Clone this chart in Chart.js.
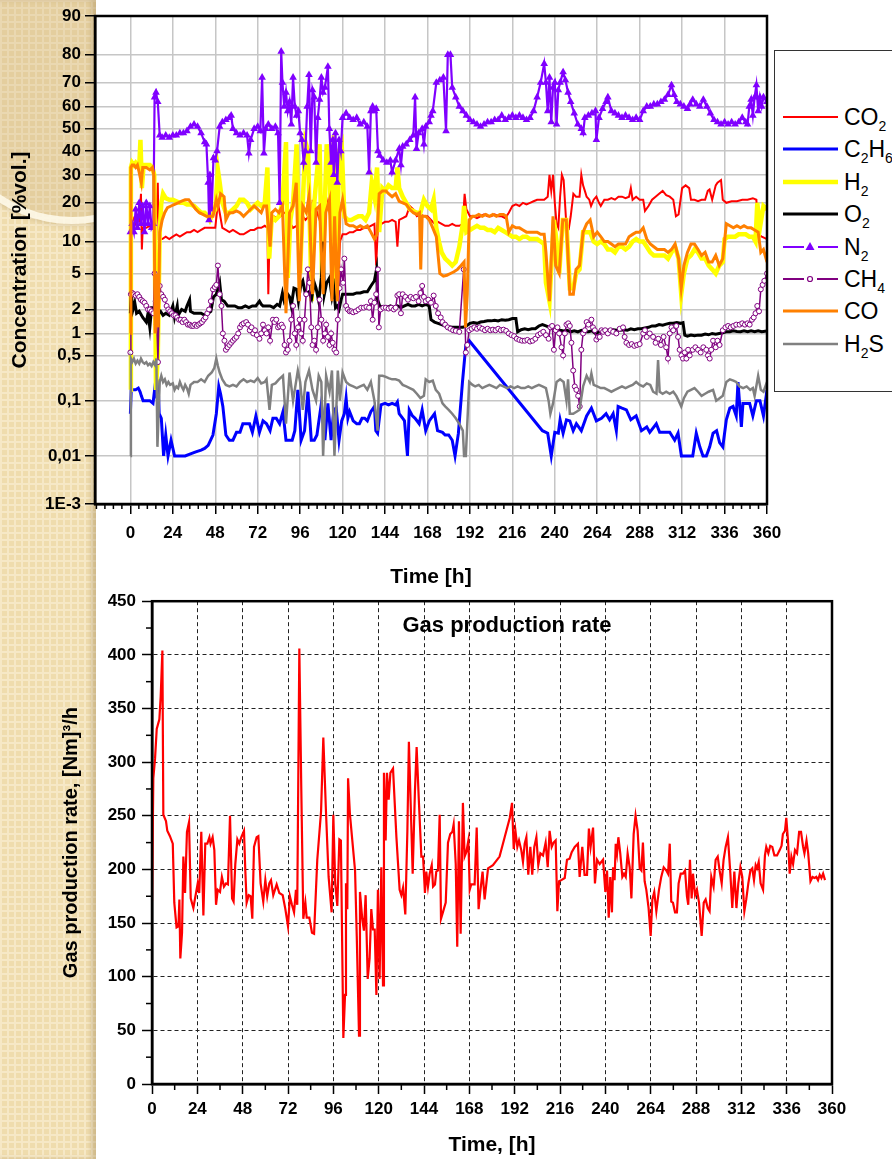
<!DOCTYPE html>
<html lang="en">
<head>
<meta charset="UTF-8">
<title>Gas composition and gas production rate</title>
<script src="https://cdn.jsdelivr.net/npm/chart.js"></script>
<style>
  html, body { margin: 0; padding: 0; }
  body {
    width: 892px; height: 1159px; overflow: hidden; position: relative;
    background: #fff; font-family: 'Liberation Sans', Arial, sans-serif;
  }
  .strip {
    position: absolute; left: 0; top: 0; width: 96px; height: 1159px; overflow: hidden;
    background-color: #efdcad;
    background-image:
      linear-gradient(#f6e8c6 2px, transparent 2px),
      linear-gradient(90deg, #f6e8c6 2px, transparent 2px);
    background-size: 7px 7px;
    box-shadow: inset -5px 0 5px rgba(130, 100, 50, .28);
  }
  .ring {
    position: absolute; left: -60px; top: -40px; width: 250px; height: 250px; border-radius: 50%;
    border: 7px solid rgba(255, 250, 236, .85);
    background: rgba(190, 160, 105, .22);
    box-shadow: 0 0 6px rgba(120, 90, 40, .3);
  }
  canvas { position: absolute; left: 0; }
  #top { top: 0; }
  #bottom { top: 585px; }
  #legend {
    position: absolute; left: 774px; top: 50px; width: 140px; height: 342px;
    border: 1.5px solid #333; background: #fff; box-sizing: border-box;
  }
  .row { position: absolute; left: 6px; height: 30px; }
  .row svg { position: absolute; left: 0; top: 0; }
  .row span { position: absolute; left: 63px; top: 0; font-size: 23px; line-height: 30px; white-space: nowrap; color: #000; }
  .row sub { font-size: 14px; vertical-align: -6px; line-height: 0; }
  #rateTitle {
    position: absolute; left: 507px; top: 612px; transform: translateX(-50%);
    font-weight: bold; font-size: 22px; white-space: nowrap;
  }
</style>
</head>
<body>
<div class="strip"><div class="ring"></div></div>
<canvas id="top" width="892" height="590"></canvas>
<canvas id="bottom" width="892" height="574"></canvas>
<div id="legend"></div>
<div id="rateTitle">Gas production rate</div>

<script>
// ---- data: [time h, %vol] ----
const co2 = [[0,15],[1,16],[2,15],[3,14],[4,16],[5,15],[6,23],[6.5,8.5],[7,13],[9,13],[11,13.5],[13,13],[14.5,14],[15.5,27],[16,10.5],[18,10.5],[20,11],[22,10.5],[24,11],[26,11.5],[28,11],[30,11.5],[32,12],[34,12],[36,12.5],[38,12],[40,12.5],[42,13],[44,13],[46,13],[48,13],[49.5,20],[50.5,17],[52,13],[54,12.5],[56,12],[58,12.5],[60,12],[62,11.5],[64,11.5],[66,12],[68,12.5],[70,12.5],[72,13],[74,13],[76,13.5],[77.5,13],[78,3],[78.5,8],[79.5,16],[81,16],[83,15.5],[85,16],[87,17],[89,17],[90.5,14],[92,13],[94,13.5],[96,14],[97.5,16],[99,15],[101,16],[102,7.5],[103,21],[104,14],[105,18],[107,15],[109,21],[110,17],[111,21],[112.6,17],[114,13],[116,12.5],[117.5,3],[118.5,10],[120,11.5],[122,11.5],[124,12],[126,12],[128,12.5],[130,12.5],[132,13],[134,13],[136,13.5],[138,14],[139,6],[140,13.5],[142,14],[144,14.5],[146,14.5],[148,15],[150,14.5],[151,9],[152,15],[154,15.5],[156,16],[158,19],[160,18],[162,16],[164,16.5],[166,16],[168,16],[170,15],[172,14],[174,14.5],[176,14],[178,13.5],[180,13.5],[182,14],[184,13.5],[186,13.5],[188,14],[189,23],[190,18],[192,16],[194,16],[196,15.5],[198,16],[200,16.5],[202,16],[204,16],[206,16.5],[208,16],[210,16],[212,15.5],[214,17],[216,19],[218,19.5],[220,19],[222,20],[224,19.5],[226,20],[228,20.5],[230,21],[232,21],[234,21],[236,22],[237,30],[238,24],[239,30],[240,20],[241,14],[242,13],[243,22],[244,30],[245,28],[246.5,14],[248,13],[249,16],[250.5,23],[252,22],[254,22],[255,30],[256,26],[257,24],[258,22],[259.5,21],[260.5,19],[262,21],[263.5,22],[265,20],[266,19],[268,21],[270,21],[272,21.5],[274,21],[276,22],[278,22],[280,21.5],[282,22],[283,25],[284,21],[286,22],[288,21],[290,21],[291,17.5],[293,19],[295,21],[297,22],[299,23],[301,24],[303,22.5],[305,22],[307,21],[308.5,16],[310,16.5],[312,25],[314,26],[316,25],[317,21],[319,21],[321,20.5],[323,21],[325,21],[326.5,24],[327.5,24.5],[329,21],[331,26],[332,27],[334,28],[335,21],[337,20],[340,20.5],[343,20.5],[346,21],[349,21],[352,21.5],[354,21],[355,11.5],[357,11],[360,10.5]];

const c2h6 = [[0,0.06],[0.5,0.15],[1.5,0.15],[3,0.15],[4.5,0.16],[5.5,0.14],[6.2,0.12],[7.2,0.1],[9,0.1],[11,0.1],[12.8,0.09],[13.7,0.15],[14.7,0.12],[15.6,0.22],[16.3,0.06],[17.5,0.05],[18.8,0.01],[20,0.025],[21.3,0.01],[23,0.02],[25,0.01],[28,0.01],[31,0.01],[34,0.011],[37,0.012],[40,0.013],[42,0.014],[44,0.016],[46.7,0.025],[48.6,0.06],[50,0.17],[51,0.13],[52.3,0.08],[54,0.025],[56,0.02],[58,0.02],[60,0.028],[62,0.028],[63.6,0.04],[65.5,0.04],[67.4,0.04],[69,0.028],[71,0.055],[73,0.028],[75,0.045],[77,0.04],[79,0.03],[80.6,0.05],[82.5,0.05],[84.4,0.04],[86.3,0.065],[88,0.02],[90,0.02],[91.5,0.02],[93,0.03],[94.7,0.15],[96.6,0.02],[98.5,0.03],[100.4,0.14],[102.3,0.02],[104,0.02],[105.5,0.025],[108,0.09],[110,0.02],[111.7,0.09],[113.5,0.02],[115,0.07],[116.4,0.075],[118,0.02],[119.5,0.045],[121,0.06],[122,0.11],[123,0.05],[124,0.065],[126,0.045],[128,0.04],[129.5,0.04],[131,0.05],[132.5,0.05],[134,0.045],[136,0.065],[138,0.08],[138.8,0.03],[139.8,0.027],[141.7,0.085],[144,0.09],[146,0.085],[148,0.09],[150,0.085],[151,0.095],[152,0.06],[154,0.05],[155,0.045],[156.7,0.01],[157.7,0.07],[159.5,0.055],[161,0.05],[163.3,0.04],[165,0.07],[167,0.03],[169,0.045],[172,0.06],[173.7,0.03],[176.5,0.028],[178,0.025],[180,0.025],[182,0.02],[183.6,0.01],[185.5,0.027],[187.8,0.2],[189.7,0.7],[191.6,0.8],[233,0.03],[236,0.027],[238,0.01],[240,0.028],[242,0.027],[243,0.047],[244.7,0.027],[246.6,0.047],[248.5,0.045],[250.4,0.03],[252.2,0.04],[255,0.03],[258,0.055],[260.7,0.075],[263.5,0.045],[266.4,0.05],[269,0.06],[271,0.047],[273,0.06],[274.8,0.03],[275.8,0.08],[278,0.075],[280.5,0.07],[283,0.047],[286,0.055],[289,0.03],[292,0.035],[293.7,0.028],[297.4,0.04],[299.3,0.028],[302,0.028],[305,0.028],[307.8,0.02],[309.7,0.027],[311.6,0.01],[315,0.01],[318,0.01],[320,0.027],[322,0.015],[323.8,0.01],[325.7,0.01],[327.6,0.015],[329.5,0.027],[331.5,0.03],[333.2,0.018],[335,0.015],[337,0.047],[339,0.075],[340.8,0.08],[342.6,0.055],[343.6,0.2],[345.5,0.035],[346.4,0.09],[348,0.09],[350.2,0.09],[352,0.055],[354,0.1],[356,0.1],[358,0.055],[360,0.15]];

const h2 = [[0,0.15],[0.3,33],[1,35],[2,34],[3,35],[4,34],[5,33],[5.7,45],[6.5,25],[7.5,34],[9,34],[11,34],[12.5,33],[13.5,30],[14.5,0.15],[15.5,0.5],[16.6,12],[17.5,20],[18.5,23],[20,21.5],[22,21],[24,21],[26,20.5],[28,20],[30,20],[32,19.5],[34,19.5],[36,19],[38,18],[40,17],[42,17],[44,16],[45,15],[46,16],[47,17],[48,18],[49.5,32],[50.5,27],[52,20],[54,17],[56,17],[58,18],[60,19],[62,21],[64,21],[66,20],[68,18],[70,19],[72,20],[74,19],[76,20],[77.5,33],[78.5,7],[80,16],[82,15],[84,16],[86,20],[88,44],[89,4.5],[90.5,15],[92,20],[94,43],[96,5],[97.5,20],[99,44],[100.5,40],[102.5,2.5],[104,20],[106,35],[107,43],[108.5,3.5],[110,20],[111,43],[112.5,36],[114,8],[115,47],[116.5,2.5],[118,40],[119.5,43],[121,16],[123,15],[125,15],[127,15.5],[129,16],[131,16],[133,15],[135,17],[136.5,27],[138,22],[139.5,33],[140.7,12],[142.5,25],[144,24],[146,26],[148,25],[150,25],[151,33],[152,25],[154,22],[156,20],[158,18],[160,17.5],[162,17],[164,17],[166,21],[168,19],[170,18],[171.5,21],[173,13],[174.5,10],[176,8],[178,7],[180,6.5],[182,6],[184,6.5],[186,9],[188,14],[188.7,19],[190,12],[192,12.5],[194,13],[196,13.5],[198,13],[200,13],[202,12.5],[204,12.5],[206,12],[208,13],[210,12.5],[212,12],[214,11.5],[216,11],[218,11],[220,10.5],[222,11],[224,11],[226,10.5],[228,10.5],[230,10.5],[232,10],[234,9.5],[235,4],[237,2.5],[238.5,8],[239.5,15],[241,10],[242.5,5],[244.5,15],[246.5,15],[248.5,3.5],[250.5,3.5],[252,5],[254,5.5],[256,12],[258,12],[260,12],[262,10],[264,9.5],[266,10],[268,9.5],[270,8.5],[272,8.5],[274,8],[276,9],[278,9],[280,8.5],[282,9],[284,10],[286,10.5],[288,10],[290,10],[292,9],[294,8],[296,7.5],[298,7.5],[300,7.5],[302,7.5],[304,7],[306,8],[308,9],[310,7],[311.5,3],[313,5],[315,7],[317,7.5],[319,8.5],[321,8],[323,7],[325,7],[327,6],[329,5.5],[331,5],[333,6],[335,6.5],[336,10.5],[338,11],[340,11],[342,11],[344,11.5],[346,11.5],[348,11.5],[350,11],[352,11],[353.5,10],[354.5,20],[356,13],[358,19],[360,18]];

const o2 = [[0,1.8],[0.5,3],[1.5,2],[2.5,2.4],[3.5,1.8],[5,1.9],[7,1.6],[9,1.4],[10,1.8],[11,1.2],[12,2.1],[13,2.1],[15,1.8],[17,1.9],[18.5,1.7],[20,1.8],[22,1.7],[24,2.2],[25,1.6],[26.5,2.2],[27,1.7],[29,2],[31,1.9],[32,2.2],[33.5,2.6],[34,1.9],[36,1.8],[38,1.8],[40,1.8],[42,1.7],[44,1.8],[45.5,1.9],[47,2.8],[48.6,3],[50.5,4],[51.5,2.6],[53,2.5],[55,2.2],[57,2.2],[59,2.2],[61,2.1],[63,2.1],[65,2.2],[67,2.1],[69,2.2],[71,2.2],[73,2.5],[74,2.3],[75,2.2],[77,2.2],[79,2.2],[81,2.1],[83,2.3],[84.4,2.2],[86,3.1],[87,2.5],[89,3],[90,2.8],[91,2.2],[92.5,3.5],[94,3.4],[95,2.5],[96.5,3.9],[97.5,4.2],[99,3],[101,3.2],[102.5,2.7],[104,4],[105,3.5],[106.5,2.5],[108,4.5],[109,10],[109.7,3],[111,4],[112.6,4.5],[114,2.8],[115,3.5],[116,2.1],[117,2.2],[118,2],[119,2.5],[120,3],[122,3],[124,3],[126,3],[128,3.1],[130,3.1],[132,3.2],[134,3.2],[136,3.7],[138,4.2],[139.2,5.5],[139.8,2.6],[141,2.2],[143,2.1],[145,2.1],[147,2.2],[149,2.1],[151,2.2],[153,2.1],[155,2.2],[157,2.3],[159,2.2],[161,2.2],[163,2.3],[165,2.2],[167,2.3],[169,2.2],[170,1.5],[172,1.4],[174,1.35],[176,1.3],[178,1.25],[180,1.22],[182,1.2],[184,1.2],[186,1.2],[188,1.2],[190,1.25],[192,1.35],[194,1.38],[196,1.35],[198,1.4],[200,1.42],[202,1.45],[204,1.45],[206,1.48],[208,1.45],[210,1.5],[212,1.48],[214,1.5],[216,1.55],[218,1.55],[219,1.05],[221,1.12],[223,1.15],[225,1.12],[227,1.15],[229,1.15],[231,1.25],[233,1.3],[235,1.25],[237,1.2],[239,1.15],[241,1.12],[243,1.1],[245,1.08],[247,1.1],[249,1.05],[251,1.08],[253,1.05],[255,1.1],[257,1.05],[259,1.05],[261,1.08],[263,1.0],[265,1.05],[267,1.05],[269,1.1],[271,1.1],[273,1.12],[275,1.1],[277,1.1],[279,1.12],[281,1.1],[283,1.15],[285,1.12],[287,1.15],[289,1.15],[291,1.18],[293,1.2],[295,1.25],[297,1.25],[299,1.3],[301,1.28],[303,1.32],[305,1.35],[307,1.35],[309,1.38],[311,1.35],[312.5,1.38],[313.5,0.95],[315,0.92],[317,0.95],[319,0.93],[321,0.95],[323,0.95],[325,0.98],[327,0.96],[329,1.0],[331,0.98],[333,1.0],[335,1.02],[337,1.05],[339,1.05],[341,1.08],[343,1.06],[345,1.05],[347,1.08],[349,1.05],[351,1.08],[353,1.05],[355,1.08],[357,1.05],[360,1.08]];

const n2 = [[0,12],[1,14],[2,12],[3,18],[4,13],[5,20],[6,14],[7,19],[8,12],[9,20],[10,14],[11,19],[12,13],[13,14],[13.7,64],[14.5,66],[15.5,62],[16.6,47],[18,46],[20,47],[22,46],[24,47],[26,47],[28,48],[30,48],[32,49],[34,51],[36,52],[38,51],[40,48],[42,44],[43,43],[44,27],[44.5,15],[45,30],[46,18],[47,37],[48,36],[49,40],[50.5,51],[52,53],[54,54],[56,55],[57,56],[58,50],[60,48],[62,47],[64,48],[66,47],[67,39],[68,45],[70,50],[72,51],[73.5,49],[74.5,72],[75.5,39],[76.5,50],[78,52],[80,50],[82,51],[83.5,48],[84.4,20],[85.3,81],[86,70],[87,60],[88,66],[89,58],[90,62],[91,52],[92,72],[93,60],[94,56],[95,58],[96,48],[97,45],[98,35],[99,40],[100,60],[101,73],[102,40],[103,67],[104,64],[105,35],[106,55],[107,63],[108,72],[109,66],[110,68],[111.7,76],[112.5,50],[113.5,35],[114.5,45],[115,30],[116,48],[117,27],[118,45],[119,40],[120,55],[122,57],[124,55],[126,54],[128,55],[130,52],[132,53],[134,51],[135,31],[136,58],[137,60],[138,58],[139,59],[140,40],[141,38],[143,36],[145,35],[147,36],[148,31],[150,36],[152,41],[153,34],[154,42],[156,43],[158,45],[160,47],[161,64],[161.8,41],[163,48],[165,50],[166,43],[167,51],[169,53],[170,56],[171,58],[173,70],[175,71],[177,72],[178.5,49],[179.5,80],[181,80],[182,68],[184,64],[186,60],[188,58],[190,56],[192,54],[194,53],[196,52],[198,51],[200,52],[202,53],[204,53],[206,54],[208,54],[210,56],[212,54],[214,55],[216,56],[218,55],[220,56],[222,55],[224,54],[226,55],[228,58],[230,64],[232,70],[234,77],[235,70],[236,58],[237,72],[238,53],[239,68],[240,70],[241,52],[242,67],[243,70],[244.7,74],[246,71],[247.5,66],[249,62],[251,57],[253,52],[255,50],[256,48],[257,55],[259,56],[261,57],[263,58],[263.5,45],[265,55],[267,59],[269,62],[270,64],[272,58],[274,57],[276,56],[278,55],[280,56],[282,55],[284,54],[286,55],[288,54],[290,58],[292,60],[294,60],[296,61],[298,61],[300,62],[302,63],[304,65],[306,69],[307.5,65],[309,62],[311,61],[313,60],[315,59],[316.5,61],[318,63],[320,61],[322,60],[324,63],[326,60],[328,57],[330,54],[332,53],[334,52],[336,53],[338,52],[340,53],[342,52],[344,53],[346,55],[348,53],[349,52],[350,60],[351,63],[352,56],[353,64],[354,69],[355,58],[356,64],[357,60],[358,64],[360,62]];

const ch4 = [[0,0.55],[0.3,3],[1,3.1],[2,3],[3,2.9],[4,3],[5,2.8],[6,2.6],[7,2.5],[8,2.4],[9,2.2],[10,2],[11,2],[12,1.9],[13,1.8],[13.7,5],[14.3,2.5],[15,1.3],[15.6,0.4],[16.6,3.7],[17.5,3],[18.5,2.8],[19.5,2.6],[20.5,2.2],[21.5,2],[22.5,1.9],[23.5,1.8],[24.5,1.7],[25.5,1.7],[26.5,1.6],[27.5,1.5],[28.5,1.5],[29.5,1.4],[30.5,1.5],[31.5,1.4],[32.5,1.3],[33.5,1.3],[34.5,1.25],[35.5,1.25],[36.5,1.3],[37.5,1.25],[38.5,1.3],[39.5,1.35],[40.5,1.4],[41.5,1.5],[42.5,1.6],[43.5,1.8],[44.5,2],[45.5,2.5],[46.7,3.4],[47.7,3.6],[48.6,3.8],[49.5,6],[50.5,3],[51.5,2.2],[52.3,1],[53.2,0.8],[54,0.6],[55,0.65],[56,0.7],[57,0.75],[58,0.8],[59,0.85],[60,0.9],[61,1.0],[62,1.2],[63,1.3],[64,1.35],[65.5,1.4],[66.5,1.3],[67.5,1.1],[68.5,1.2],[69.5,1.0],[70.5,1.1],[71.5,0.95],[73,0.85],[74,1.0],[75,1.3],[76,1.1],[77,1.0],[78,1.2],[79,0.8],[80.6,1.5],[81.5,1.4],[82.5,1.5],[83.5,1.2],[84.4,1.25],[85.5,1.3],[86.3,1.2],[87.2,0.7],[88,0.55],[89,0.6],[90,0.8],[91,1.5],[92,2.2],[93,1.0],[93.8,0.7],[94.8,1.2],[95.7,1.5],[96.6,1.0],[97.5,0.8],[98.5,1.5],[99.4,3],[100.4,5.5],[101.3,4],[102.3,1.2],[103,0.7],[104,0.8],[105,0.6],[106,1.2],[107,2.6],[108,1.5],[109,0.8],[110,1.0],[110.7,1.3],[111.7,0.9],[112.6,0.7],[113.5,1.0],[114.4,0.75],[115.4,0.6],[116.4,0.55],[117.3,1.5],[118.3,3.5],[119.2,5.5],[120.3,4],[121,7],[122,2.2],[123,2.0],[124,1.9],[125,1.9],[126,1.85],[127.5,1.9],[129,2.0],[130.5,2.1],[132,2.1],[133.5,2.15],[135,2.1],[136,2.5],[137,1.5],[138,2.4],[139,3],[140,5.5],[140.5,1.2],[141.5,2],[143,2.1],[144.5,2.1],[146,2.05],[147.5,2.1],[149,2.0],[150,2.1],[151,2.9],[152,3],[153,1.8],[154,3],[155.5,2.8],[157,2.6],[158.5,2.8],[160,2.7],[161.5,2.8],[163,2.5],[164,3.1],[165,3.7],[166,2.8],[167,2.5],[168.5,2.6],[170,2.4],[171.5,2.9],[172.7,2.2],[174,1.8],[175.5,1.6],[176.5,1.4],[178,1.3],[179.5,1.2],[181,1.15],[182.5,1.1],[184,1.08],[186,1.05],[188.5,5.5],[189.7,0.55],[190.5,0.7],[191.6,1.1],[193,1.15],[194.5,1.2],[196,1.15],[197.5,1.2],[199,1.15],[200.5,1.1],[202,1.15],[203.5,1.1],[205,1.12],[206.5,1.1],[208,1.15],[209.5,1.1],[211,1.12],[212.5,1.08],[214,1.0],[215.5,0.95],[217,0.92],[218.5,0.85],[220,0.82],[221.5,0.8],[223,0.8],[224.5,0.82],[226,0.78],[227.5,0.8],[229,0.85],[230.5,0.95],[232,1.0],[233.5,1.05],[235,0.95],[236.5,0.85],[237.5,1.2],[238.5,1.25],[239.5,0.6],[240.5,1.1],[241.5,1.2],[242.5,1.0],[243.8,0.65],[244.7,0.5],[245.7,1.0],[246.6,1.3],[247.6,1.35],[248.5,1.25],[249.4,0.75],[250.4,0.3],[251.3,0.17],[252.2,0.15],[253.2,0.12],[254.1,0.08],[255,0.6],[256,1.0],[257,1.1],[258,1.4],[259,1.3],[260.7,1.5],[261.6,1.2],[262.6,1.1],[263.5,0.83],[264.5,0.9],[265.4,0.9],[266.4,1.1],[267.3,1.05],[268.5,1.1],[270,1.0],[271.5,1.1],[273,1.05],[274.8,1.0],[276.7,1.15],[278.6,1.2],[279.5,0.9],[280.5,0.75],[282,0.7],[283.5,0.72],[285,0.68],[286.5,0.7],[288,0.72],[290,1.0],[291,1.1],[292,0.9],[293.7,1.0],[295.6,0.9],[297,0.75],[298.5,0.85],[300,0.7],[301.5,0.9],[303,0.65],[304,0.45],[305,1.0],[306,1.2],[307,1.1],[308.7,1.25],[309.7,0.9],[310.6,0.6],[311.6,0.5],[312.5,0.45],[313.5,0.55],[314.4,0.45],[315.4,0.6],[316.3,0.5],[318,0.6],[319.5,0.65],[321,0.6],[322.5,0.55],[324,0.65],[325.7,0.6],[326.6,0.5],[327.6,0.45],[328.5,0.6],[329.5,0.8],[331,0.65],[332,0.8],[333.2,0.7],[335,1.1],[336.5,1.2],[338,1.25],[339.5,1.2],[341,1.25],[342.6,1.3],[344.5,1.3],[346,1.35],[347.5,1.3],[349,1.35],[350.2,1.3],[351.5,1.5],[352.5,1.6],[353.5,1.8],[354.5,2.2],[355.5,1.9],[356.5,3.4],[357.5,3.8],[358.5,4.2],[360,5]];

const co = [[0,1],[0.3,33],[1,34],[2,34],[3,33],[4,34],[5,31],[6.2,27],[7,33],[9,33],[11,32],[12.5,33],[13.3,30],[14,1],[15,5],[15.8,1.2],[16.6,12],[18,15],[19.4,17],[21,18.5],[23,19],[25,19.5],[27,20],[29,20.5],[31,21],[33,21],[35,19.5],[37,18],[39,17],[41,16.5],[43,16],[45,16],[46.7,16],[48.6,21],[49.5,19],[51,23],[53,22],[54,15],[56,17],[58,17],[60,17.5],[62,17],[64,16],[66,17],[68,18],[70,19],[72,18],[74,17],[75.5,19],[77,19],[79,9],[80,17],[82,18],[84,17],[86,19],[88,1.8],[90,17],[92,19],[93.8,27],[95.5,2.5],[97.5,19],[99.5,17],[101,22],[103,3],[105,18],[107,19],[109,3],[110.5,17],[112.6,21],[114,2.5],[115.5,16],[117,2.5],[118.5,17],[120,21],[122,14],[124,13.5],[126,13.5],[128,13],[130,13.5],[132,13],[134,13.5],[136,12],[138,10.5],[139.5,11.5],[140.7,23],[142.5,24],[144.5,24],[146,23],[148,22],[150,23],[152,20.5],[154,20],[156,19.5],[158,18],[160,17],[162,16.5],[163.5,17],[164.2,5.5],[165,16],[167,16],[169,15],[171,13],[173,11],[175,5],[177,4.7],[179,4.8],[181,5],[183,5.2],[185,5.5],[187,6],[188.7,6.5],[189.5,1.2],[190.5,3],[191.6,15],[193.5,16],[195,16],[197,16.5],[199,16],[201,16.5],[203,16],[205,16.5],[207,16],[209,16.5],[211,16.5],[212.5,16],[214,12],[216,13.5],[218,13],[220,13],[222,12.5],[224,12],[226,12],[228,12],[230,12],[232,11.5],[234,11.5],[235,8],[237,2.5],[239,16],[240.5,6],[242.5,5],[244.5,15],[246.5,15],[248.5,3],[250.5,3],[252,5.5],[254,6],[256,12],[258,14],[260,15],[262,11],[264,12],[266,11],[268,10],[270,10],[272,9.5],[274,9],[276,9.5],[278,9.5],[280,9.5],[282,11],[284,11.5],[286,12],[288,12],[290,13],[292,10.5],[294,9.5],[296,9],[298,8.5],[300,8.5],[302,8.5],[304,8],[306,8.5],[308,9.5],[310,7],[311.5,3.5],[313,6],[315,8],[317,9.5],[319,9.5],[321,8.5],[323,7.5],[325,8],[327,6.5],[329,6.5],[331,7.5],[333,6],[335,7],[337,14],[339,13.5],[341,13],[343,13.5],[345,13],[347,13.5],[349,13],[351,13],[353,12.5],[355,12],[356.5,8],[358,8.5],[360,6.5]];

const h2s = [[0,0.01],[0.3,0.45],[1,0.4],[2,0.45],[3,0.38],[4,0.42],[5,0.38],[6,0.45],[7,0.4],[8,0.38],[9,0.4],[10,0.36],[11,0.38],[12,0.35],[13,0.4],[14,0.36],[14.7,0.45],[15.3,0.015],[16.6,0.2],[17.5,0.25],[18.5,0.2],[19.5,0.22],[20.5,0.18],[21.5,0.2],[22.5,0.18],[24,0.19],[25,0.15],[26,0.17],[27,0.16],[28,0.2],[29,0.17],[30,0.15],[31,0.18],[32,0.16],[33,0.13],[34,0.18],[35,0.19],[36,0.2],[38,0.2],[40,0.22],[42,0.2],[44,0.25],[46,0.28],[47.5,0.33],[48.6,0.45],[49.5,0.35],[50.5,0.28],[52,0.22],[54,0.18],[56,0.17],[58,0.18],[60,0.17],[62,0.2],[64,0.22],[66,0.2],[68,0.21],[70,0.2],[72,0.23],[74,0.19],[76,0.2],[77,0.22],[78.7,0.07],[80,0.18],[82,0.19],[84,0.22],[86.3,0.25],[88,0.04],[90,0.28],[92,0.1],[94.7,0.3],[96,0.2],[97.5,0.07],[99,0.2],[101,0.3],[103,0.15],[105,0.1],[106.5,0.25],[108,0.2],[109,0.01],[110.7,0.25],[112.6,0.14],[114,0.3],[115.4,0.01],[117.3,0.3],[118.5,0.1],[120,0.28],[122,0.2],[124,0.18],[126,0.17],[128,0.16],[130,0.17],[132,0.18],[134,0.15],[136,0.2],[138,0.1],[139.8,0.03],[140.7,0.25],[142.6,0.25],[144.5,0.24],[146,0.23],[148,0.22],[150,0.22],[152,0.21],[154,0.18],[156,0.17],[158,0.16],[160,0.15],[162,0.13],[164,0.11],[166,0.12],[167,0.22],[169,0.2],[171,0.21],[172.7,0.15],[174.6,0.13],[176.5,0.09],[178,0.08],[180,0.07],[182,0.06],[184,0.05],[186,0.04],[188,0.03],[188.7,0.01],[189.7,0.01],[191.6,0.2],[193.5,0.18],[195,0.17],[197,0.18],[199,0.16],[201,0.17],[203,0.18],[205,0.17],[207,0.16],[209,0.18],[211,0.17],[213,0.16],[215,0.17],[217,0.16],[219,0.17],[221,0.16],[223,0.16],[225,0.17],[227,0.16],[229,0.17],[231,0.18],[233,0.17],[235,0.16],[236.5,0.1],[237.5,0.06],[239,0.09],[241,0.2],[243,0.22],[245,0.2],[246.6,0.1],[247.5,0.22],[248.5,0.06],[250.4,0.06],[252.3,0.065],[254,0.07],[256,0.17],[258,0.25],[259.8,0.2],[260.7,0.27],[262,0.18],[264,0.17],[266,0.16],[268,0.16],[270,0.15],[272,0.14],[274,0.15],[276,0.16],[278,0.17],[280,0.16],[282,0.17],[284,0.18],[286,0.2],[288,0.18],[290,0.17],[292,0.19],[294,0.18],[295.6,0.14],[297.5,0.13],[298.4,0.43],[299.3,0.14],[301,0.13],[303,0.14],[305,0.13],[307,0.14],[308.7,0.12],[310,0.1],[311.5,0.08],[313,0.11],[315,0.14],[317,0.15],[319,0.16],[321,0.14],[323,0.12],[325,0.13],[327,0.14],[329.5,0.15],[331.3,0.1],[333.2,0.11],[335,0.12],[337,0.2],[339,0.22],[341,0.21],[342.6,0.2],[344.5,0.17],[346.5,0.16],[348.5,0.17],[350.5,0.15],[352,0.16],[353,0.12],[355,0.25],[356.5,0.15],[358,0.14],[360,0.2]];

// [time h, Nm3/h]
const gasRate = [[0,170],[0.7,285],[1.6,303],[2.5,331],[3.9,340],[4.6,361],[5.5,404],[6,251],[7.4,245],[8.1,236],[9.5,231],[11,224],[11.8,169],[13,146],[14,147],[14.5,172],[15,117],[15.9,141],[16.6,212],[17.5,178],[18.5,235],[19.6,244],[20.5,173],[21.9,164],[23.3,178],[24.2,187],[25,178],[26.1,235],[27.2,157],[28.2,224],[29.3,224],[30.4,230],[31,224],[32.1,230],[33,218],[33.9,167],[34.8,181],[36,179],[37,193],[38.1,184],[39.2,187],[40.2,186],[41.3,250],[42.4,173],[43.2,170],[44.1,205],[45.2,228],[46.2,224],[47.3,230],[48.7,236],[49.4,199],[50.1,169],[51.2,176],[52.2,175],[53.1,154],[54,221],[55.4,230],[56.3,231],[57.5,187],[58.9,170],[60,190],[61,175],[62.1,187],[63,190],[64.2,176],[66,186],[67.4,178],[69.2,176],[70.6,163],[72,147],[73,175],[74.1,167],[75.2,160],[76.2,181],[76.9,167],[78,406],[79,279],[80.1,154],[81.2,169],[81.9,155],[83.3,155],[84.7,141],[85.8,140],[87.5,209],[89.5,254],[90.7,323],[92.1,254],[93.5,193],[95.1,160],[96,251],[97,187],[98.1,166],[99.2,228],[100,227],[101.3,43],[102.2,83],[102.7,187],[103.4,163],[103.8,285],[104.8,251],[107.5,199],[108.4,138],[109.6,45],[110.1,179],[111.3,154],[112.2,143],[113.1,176],[114.2,98],[115.2,117],[116.1,163],[117,144],[117.9,144],[118.8,83],[119.6,181],[120.5,98],[121.4,202],[122.3,92],[122.8,290],[123.7,227],[124.4,290],[125.3,265],[126.2,290],[127.6,294],[129.4,230],[131.1,181],[132,176],[132.9,183],[134.1,158],[135.2,236],[136,319],[136.9,264],[138,196],[139.2,273],[140.1,314],[141.2,267],[142.6,212],[143.5,212],[144.5,178],[145.2,198],[146.1,184],[147,196],[148.1,204],[148.8,184],[149.8,186],[150.5,198],[151.4,199],[152.3,251],[153,154],[154,160],[155.5,169],[156.7,225],[157.9,233],[159,235],[159.7,242],[160.8,205],[161.6,128],[162.5,245],[163.4,140],[164.6,262],[165.5,212],[166.4,216],[167.5,227],[168.2,181],[169,186],[170.8,186],[171.9,239],[172.9,163],[173.8,179],[175,198],[176.1,172],[177.9,201],[180.5,204],[184,212],[186.7,230],[189.4,248],[190.6,262],[191.5,219],[192.4,236],[193.4,221],[194.3,227],[195.5,218],[196.4,207],[197.3,224],[198.2,230],[199.2,195],[200.3,221],[201.3,195],[202.4,221],[203.5,230],[204.5,204],[205.6,215],[207,213],[208.4,225],[209.5,202],[210.5,236],[211.6,221],[212.6,225],[213.7,227],[214.6,161],[215.5,189],[216.7,190],[218.5,192],[219.7,209],[221.1,210],[222.2,216],[223.8,221],[225.5,224],[226.4,193],[227.8,221],[229,195],[230.3,195],[231.3,238],[232.2,221],[233.5,239],[234.5,187],[235.6,209],[237,205],[238.8,209],[240,179],[240.9,199],[241.8,155],[242.6,193],[243.5,160],[244.1,202],[244.9,190],[245.5,224],[246.2,215],[246.9,230],[247.9,215],[249,193],[249.9,196],[250.8,193],[251.8,215],[252.9,202],[253.8,173],[255,233],[256,250],[257.1,236],[258.2,201],[259.1,199],[259.9,225],[260.8,189],[261.7,181],[262.9,164],[264,138],[264.9,172],[265.9,179],[267,161],[268.4,181],[269.6,193],[270.9,202],[272.3,199],[273.2,196],[274.1,224],[274.9,170],[275.8,169],[276.9,160],[277.9,160],[278.8,187],[279.9,196],[281.1,196],[282.2,199],[283.2,175],[283.9,167],[284.8,209],[285.7,173],[286.4,196],[287.5,176],[288.5,181],[289.6,169],[291,138],[292.1,169],[293.1,172],[294.2,164],[295.2,161],[296.1,193],[297.3,184],[298.4,209],[299.5,212],[300.5,199],[301.6,187],[302.6,209],[303.7,221],[304.9,230],[306.2,196],[307.2,164],[308.3,198],[309.4,164],[310.4,187],[311.5,202],[312.5,193],[313.6,161],[314.6,172],[315.7,187],[316.8,199],[317.8,201],[318.7,190],[319.6,204],[320.3,201],[321.2,207],[322.2,187],[323.5,181],[324.5,213],[325.2,221],[326.3,215],[327.3,222],[328.4,221],[329.5,213],[330.9,213],[332.3,218],[333.3,222],[334,233],[335.1,236],[335.8,248],[336.7,227],[337.6,196],[338.5,212],[339.4,205],[340.4,218],[341.5,215],[342.6,235],[343.6,235],[344.7,221],[345.4,215],[346.5,227],[347.4,215],[348.6,189],[349.7,193],[350.8,192],[351.7,193],[352.6,190],[353.5,195],[354.4,192],[355.3,196],[356.3,190]];

const concTicks = [0.001, 0.01, 0.1, 0.5, 1, 2, 5, 10, 20, 30, 40, 50, 60, 70, 80, 90];
const concTickLabels = ['1E-3', '0,01', '0,1', '0,5', '1', '2', '5', '10', '20', '30', '40', '50', '60', '70', '80', '90'];
const timeTicks = [0, 24, 48, 72, 96, 120, 144, 168, 192, 216, 240, 264, 288, 312, 336, 360];

// inverse normal CDF (Acklam) -> probability axis
function probit(p) {
  const a = [-39.69683028665376, 220.9460984245205, -275.9285104469687, 138.3577518672690, -30.66479806614716, 2.506628277459239];
  const b = [-54.47609879822406, 161.5858368580409, -155.6989798598866, 66.80131188771972, -13.28068155288572];
  const c = [-0.007784894002430293, -0.3223964580411365, -2.400758277161838, -2.549732539343734, 4.374664141464968, 2.938163982698783];
  const d = [0.007784695709041462, 0.3224671290700398, 2.445134137142996, 3.754408661907416];
  const lo = 0.02425;
  if (p < lo) {
    const q = Math.sqrt(-2 * Math.log(p));
    return (((((c[0]*q + c[1])*q + c[2])*q + c[3])*q + c[4])*q + c[5]) / ((((d[0]*q + d[1])*q + d[2])*q + d[3])*q + 1);
  }
  if (p > 1 - lo) {
    const q = Math.sqrt(-2 * Math.log(1 - p));
    return -(((((c[0]*q + c[1])*q + c[2])*q + c[3])*q + c[4])*q + c[5]) / ((((d[0]*q + d[1])*q + d[2])*q + d[3])*q + 1);
  }
  const q = p - 0.5, r = q * q;
  return (((((a[0]*r + a[1])*r + a[2])*r + a[3])*r + a[4])*r + a[5])*q / (((((b[0]*r + b[1])*r + b[2])*r + b[3])*r + b[4])*r + 1);
}
const toProb = pts => pts.map(([t, v]) => ({ x: t, y: probit(v / 100) }));

const series = [
  { name: 'CO<sub>2</sub>', data: co2, color: '#ff0000', width: 2 },
  { name: 'C<sub>2</sub>H<sub>6</sub>', data: c2h6, color: '#0000ff', width: 3 },
  { name: 'H<sub>2</sub>', data: h2, color: '#ffff00', width: 4.5 },
  { name: 'O<sub>2</sub>', data: o2, color: '#000000', width: 3 },
  { name: 'N<sub>2</sub>', data: n2, color: '#8000ff', width: 2.2, marker: 'triangle' },
  { name: 'CH<sub>4</sub>', data: ch4, color: '#800080', width: 1.5, marker: 'circle' },
  { name: 'CO', data: co, color: '#ff8000', width: 3 },
  { name: 'H<sub>2</sub>S', data: h2s, color: '#808080', width: 2.5 }
];

const boldFont = size => ({ family: "'Liberation Sans', Arial, sans-serif", size: size, weight: 'bold' });

// minor tick marks + frame drawn around the plot area
const minorTicks = {
  id: 'minorTicks',
  afterDraw(chart, args, o) {
    const { ctx, chartArea: a, scales } = chart;
    ctx.save();
    ctx.strokeStyle = '#000';
    ctx.lineWidth = 1.5;
    if (o.xStep) {
      const s = scales.x;
      for (let k = Math.ceil(s.min / o.xStep); k * o.xStep <= s.max + 1e-9; k++) {
        const v = k * o.xStep;
        if (Math.abs(v / o.xMajor - Math.round(v / o.xMajor)) < 1e-6) continue;
        const px = s.getPixelForValue(v);
        ctx.beginPath(); ctx.moveTo(px, a.bottom); ctx.lineTo(px, a.bottom + o.len); ctx.stroke();
      }
    }
    if (o.yStep) {
      const s = scales.y;
      for (let k = Math.ceil(s.min / o.yStep); k * o.yStep <= s.max + 1e-9; k++) {
        const v = k * o.yStep;
        if (Math.abs(v / o.yMajor - Math.round(v / o.yMajor)) < 1e-6) continue;
        const py = s.getPixelForValue(v);
        ctx.beginPath(); ctx.moveTo(a.left - o.len, py); ctx.lineTo(a.left, py); ctx.stroke();
      }
    }
    ctx.lineWidth = 2.5;
    ctx.strokeRect(a.left, a.top, a.right - a.left, a.bottom - a.top);
    ctx.restore();
  }
};

// ---- top chart: gas composition on a probability axis ----
new Chart(document.getElementById('top'), {
  type: 'line',
  data: {
    datasets: series.map((s, i) => ({
      label: s.name.replace(/<\/?sub>/g, ''),
      data: toProb(s.data),
      borderColor: s.color,
      backgroundColor: s.marker === 'circle' ? '#ffffff' : s.color,
      borderWidth: s.width,
      pointRadius: s.marker ? (s.marker === 'triangle' ? 4.4 : 2.5) : 0,
      pointStyle: s.marker || 'circle',
      pointBorderWidth: s.marker === 'circle' ? 1 : 0,
      pointBorderColor: s.color,
      pointBackgroundColor: s.marker === 'circle' ? '#ffffff' : s.color,
      tension: 0,
      order: series.length - i
    }))
  },
  options: {
    responsive: false,
    animation: false,
    layout: { padding: { left: 0, top: 16, right: 125, bottom: 0 } },
    plugins: {
      legend: { display: false },
      tooltip: { enabled: false },
      minorTicks: { xStep: 4.8, xMajor: 24, len: 5 }
    },
    scales: {
      x: {
        type: 'linear', min: -20, max: 360,
        afterBuildTicks: sc => { sc.ticks = timeTicks.map(v => ({ value: v })); },
        afterFit: sc => { sc.height = 86; },
        ticks: { autoSkip: false, maxRotation: 0, color: '#000', font: boldFont(17), padding: 9 },
        grid: { color: '#c6c6c6', lineWidth: 1.5, tickColor: '#000', tickWidth: 1.5, tickLength: 10 },
        border: { color: '#000', width: 2.5 },
        title: { display: true, text: 'Time [h]', color: '#000', font: boldFont(21), padding: { top: 0, bottom: 0 } }
      },
      y: {
        type: 'linear', min: probit(0.00001), max: probit(0.9),
        afterBuildTicks: sc => { sc.ticks = concTicks.map(v => ({ value: probit(v / 100) })); },
        afterFit: sc => { sc.width = 95; },
        ticks: { autoSkip: false, color: '#000', font: boldFont(17), padding: 4,
          callback: (val, idx) => concTickLabels[idx] },
        grid: { color: '#c6c6c6', lineWidth: 1.5, tickColor: '#000', tickWidth: 1.5, tickLength: 10 },
        border: { color: '#000', width: 2.5 },
        title: { display: true, text: 'Concentration [%vol.]', color: '#000', font: boldFont(21), padding: { top: 8, bottom: 0 } }
      }
    }
  },
  plugins: [minorTicks]
});

// legend with subscripts
const legend = document.getElementById('legend');
const rowTops = [51, 83, 116, 148, 181, 213, 245, 278];
series.forEach((s, i) => {
  const row = document.createElement('div');
  row.className = 'row';
  row.style.top = rowTops[i] + 'px';
  let mark = '<line x1="2" y1="15" x2="57" y2="15" stroke="' + s.color + '" stroke-width="' + Math.max(s.width, 2) + '"/>';
  if (s.marker === 'triangle') {
    mark = '<line x1="2" y1="15" x2="23" y2="15" stroke="' + s.color + '" stroke-width="2"/>' +
      '<polygon points="29,10 33.5,18 24.5,18" fill="' + s.color + '"/>' +
      '<line x1="37" y1="15" x2="57" y2="15" stroke="' + s.color + '" stroke-width="2"/>';
  } else if (s.marker === 'circle') {
    mark = '<line x1="2" y1="15" x2="23" y2="15" stroke="' + s.color + '" stroke-width="2"/>' +
      '<circle cx="29" cy="15" r="2.5" fill="#fff" stroke="' + s.color + '" stroke-width="1.2"/>' +
      '<line x1="36" y1="15" x2="57" y2="15" stroke="' + s.color + '" stroke-width="2"/>';
  }
  row.innerHTML = '<svg width="60" height="30">' + mark + '</svg><span>' + s.name + '</span>';
  legend.appendChild(row);
});

// ---- bottom chart: gas production rate ----
new Chart(document.getElementById('bottom'), {
  type: 'line',
  data: {
    datasets: [{
      label: 'Gas production rate',
      data: gasRate.map(([t, v]) => ({ x: t, y: v })),
      borderColor: '#ff0000',
      borderWidth: 2.2,
      pointRadius: 0,
      tension: 0
    }]
  },
  options: {
    responsive: false,
    animation: false,
    layout: { padding: { left: 0, top: 9, right: 60, bottom: 0 } },
    plugins: {
      legend: { display: false },
      tooltip: { enabled: false },
      minorTicks: { xStep: 12, xMajor: 24, yStep: 25, yMajor: 50, len: 6 }
    },
    scales: {
      x: {
        type: 'linear', min: 0, max: 360,
        afterBuildTicks: sc => { sc.ticks = timeTicks.map(v => ({ value: v })); },
        afterFit: sc => { sc.height = 75; },
        ticks: { autoSkip: false, maxRotation: 0, color: '#000', font: boldFont(17), padding: 5 },
        grid: { color: '#222', lineWidth: 1, tickColor: '#000', tickWidth: 1.5, tickLength: 10 },
        border: { color: '#000', width: 2.5, dash: [4, 3] },
        title: { display: true, text: 'Time, [h]', color: '#000', font: boldFont(21), padding: { top: 0, bottom: 1 } }
      },
      y: {
        type: 'linear', min: 0, max: 450,
        ticks: { stepSize: 50, autoSkip: false, color: '#000', font: boldFont(17), padding: 6 },
        afterFit: sc => { sc.width = 152; },
        grid: { color: '#222', lineWidth: 1, tickColor: '#000', tickWidth: 1.5, tickLength: 10 },
        border: { color: '#000', width: 2.5, dash: [4, 3] },
        title: { display: true, text: 'Gas production rate, [Nm]³/h', color: '#000', font: boldFont(20), padding: { top: 59, bottom: 0 } }
      }
    }
  },
  plugins: [minorTicks]
});
</script>
</body>
</html>
